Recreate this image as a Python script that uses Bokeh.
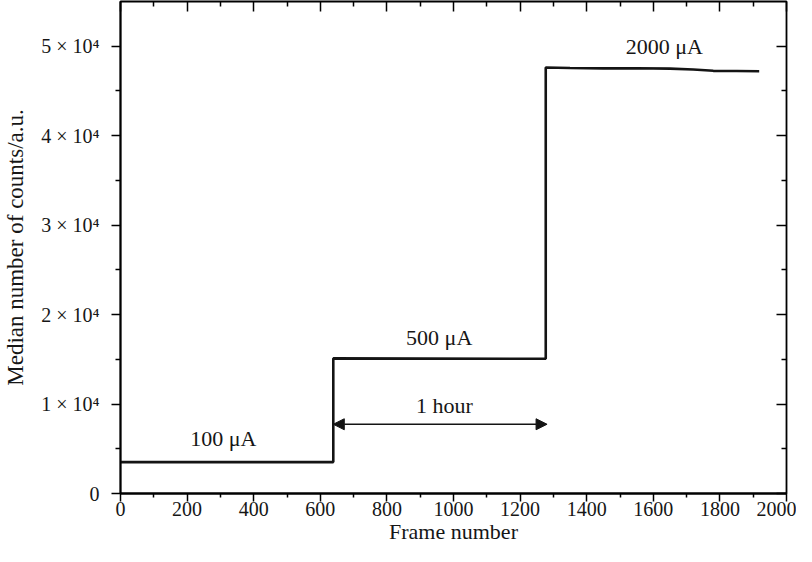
from bokeh.plotting import figure
from bokeh.models import Range1d, LinearAxis, FixedTicker, Arrow, NormalHead, CustomJSTickFormatter
from bokeh.embed import file_html
from bokeh.resources import INLINE
from bokeh.core.properties import value

# ---- data ----
frame = [0, 639, 639, 1277, 1277, 1350, 1450, 1550, 1650, 1720, 1780, 1850, 1918]
counts = [3510, 3510, 15100, 15060, 47620, 47560, 47520, 47540, 47500, 47400, 47250, 47230, 47200]

x_ticks = [0, 200, 400, 600, 800, 1000, 1200, 1400, 1600, 1800, 2000]
x_minor = [100, 300, 500, 700, 900, 1100, 1300, 1500, 1700, 1900]
y_ticks = [0, 10000, 20000, 30000, 40000, 50000]
y_tick_labels = ["0", "1 × 10⁴", "2 × 10⁴", "3 × 10⁴", "4 × 10⁴", "5 × 10⁴"]
y_minor = [5000, 15000, 25000, 35000, 45000]

label_text = ["100 μA", "500 μA", "2000 μA", "1 hour"]
label_x = [309, 957, 1633, 973]
label_y = [6200, 17430, 50000, 9870]

arrow_x = [639, 1281]
arrow_y = [7740, 7740]

x_title = "Frame number"
y_title = "Median number of counts/a.u."

FONT = "Liberation Serif"
INK = "#161616"

p = figure(width=796, height=546, output_backend="svg", toolbar_location=None,
           x_range=Range1d(0, 2000), y_range=Range1d(0, 55000),
           min_border_left=119, min_border_right=10, min_border_top=1, min_border_bottom=0,
           x_axis_label=x_title, y_axis_label=y_title)
p.xgrid.visible = False
p.ygrid.visible = False
p.outline_line_color = "black"
p.outline_line_width = 1.8
p.outline_line_alpha = 1.0
p.background_fill_color = "white"
p.border_fill_color = "white"


def style(ax, outward=True):
    ax.axis_line_color = "black"
    ax.axis_line_width = 1.8
    ax.major_tick_line_color = "black"
    ax.minor_tick_line_color = "black"
    ax.major_tick_line_width = 1.5
    ax.minor_tick_line_width = 1.5
    if outward:
        ax.major_tick_out = 9
        ax.major_tick_in = 0
        ax.minor_tick_out = 5
        ax.minor_tick_in = 0
    else:
        ax.major_tick_out = 0
        ax.major_tick_in = 10
        ax.minor_tick_out = 0
        ax.minor_tick_in = 5
    ax.major_label_text_font = FONT
    ax.major_label_text_font_size = "20px"
    ax.major_label_text_color = INK
    ax.axis_label_text_font = FONT
    ax.axis_label_text_font_size = "22px"
    ax.axis_label_text_font_style = "normal"
    ax.axis_label_text_color = INK


xa = p.xaxis[0]
xa.ticker = FixedTicker(ticks=x_ticks, minor_ticks=x_minor)
style(xa)
xa.major_tick_out = 8
xa.minor_tick_out = 4
xa.major_label_standoff = 0
xa.axis_label_standoff = 0

ya = p.yaxis[0]
ya.ticker = FixedTicker(ticks=y_ticks, minor_ticks=y_minor)
ya.major_label_overrides = dict(zip(y_ticks, y_tick_labels))
style(ya)
ya.axis_label_text_font_size = "23px"
ya.major_label_standoff = 12
ya.axis_label_standoff = 10

blank = CustomJSTickFormatter(code="return ''")
top = LinearAxis(ticker=FixedTicker(ticks=x_ticks, minor_ticks=x_minor), formatter=blank)
style(top, outward=False)
top.axis_line_color = None
top.major_label_standoff = 0
top.major_label_text_font_size = "0px"
top.axis_label_standoff = 0
p.add_layout(top, "above")

right = LinearAxis(ticker=FixedTicker(ticks=y_ticks, minor_ticks=y_minor), formatter=blank)
style(right, outward=False)
right.axis_line_color = None
right.major_label_standoff = 0
right.major_label_text_font_size = "0px"
right.axis_label_standoff = 0
p.add_layout(right, "right")

p.line(frame, counts, line_color="#141414", line_width=2.6)

p.text(x=label_x, y=label_y, text=label_text, text_align="center", text_baseline="middle",
       text_font=value(FONT), text_font_size="22px", text_color=INK)

p.add_layout(Arrow(start=NormalHead(size=11, fill_color="#141414", line_color="#141414"),
                   end=NormalHead(size=11, fill_color="#141414", line_color="#141414"),
                   x_start=arrow_x[0], y_start=arrow_y[0], x_end=arrow_x[1], y_end=arrow_y[1],
                   line_color="#141414", line_width=1.6))

open("out.html", "w").write(file_html(p, INLINE))
